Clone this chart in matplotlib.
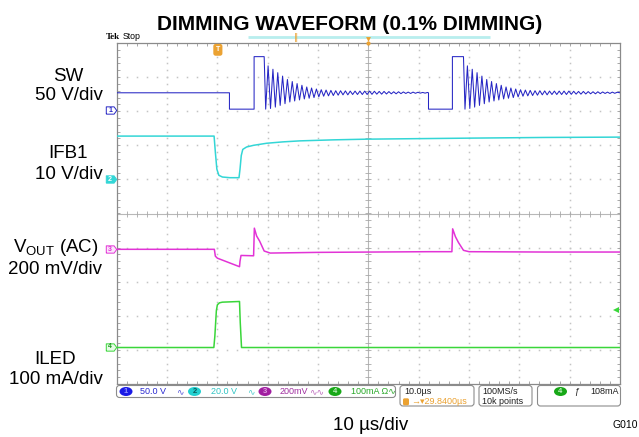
import numpy as np
import matplotlib.pyplot as plt
from matplotlib.patches import FancyBboxPatch, Ellipse
from matplotlib.path import Path

plt.rcParams['font.family'] = ['Liberation Sans', 'DejaVu Sans']
plt.rcParams['mathtext.fontset'] = 'custom'
plt.rcParams['mathtext.rm'] = 'Liberation Sans'

W, H = 639, 437

# ---- data: time in us (10 us/div), amplitude in screen divisions ----
# SW (ch1)
sw_base = 3.54
sw_low = 3.06
sw_pulse = 4.60
sw_fall = [22.4, 61.95]       # switch node drops
sw_rise = [27.3, 66.7]        # switch node jumps up
sw_ring_start = [29.3, 68.9]  # end of flat top, ringing begins
ring_period = 0.96
ring_peaks = [4.33, 4.23, 4.13, 4.03, 3.93, 3.87, 3.81, 3.76, 3.71, 3.68,
              3.65, 3.63, 3.62, 3.61, 3.60, 3.60, 3.595, 3.59, 3.59, 3.59,
              3.59, 3.59, 3.585, 3.58, 3.58, 3.575, 3.57, 3.57, 3.565, 3.56,
              3.56, 3.555, 3.55, 3.55]
ring_troughs = [3.06, 3.08, 3.12, 3.17, 3.22, 3.27, 3.30, 3.33, 3.36, 3.38,
                3.40, 3.42, 3.44, 3.45, 3.46, 3.47, 3.48, 3.48, 3.49, 3.49,
                3.49, 3.49, 3.495, 3.50, 3.50, 3.505, 3.51, 3.51, 3.515, 3.52,
                3.52, 3.525, 3.53, 3.53]

# IFB1 (ch2)
ifb_t = [0, 19.35, 19.6, 19.9, 20.3, 21.0, 22.5, 24.3, 24.5, 24.75, 25.05,
         25.8, 27.2, 29.8, 33.0, 36.4, 43.1, 49.7, 56.3, 70, 85, 100]
ifb_v = [2.27, 2.27, 1.80, 1.30, 1.12, 1.07, 1.05, 1.05, 1.30, 1.70, 1.88,
         1.95, 2.00, 2.06, 2.10, 2.13, 2.16, 2.18, 2.19, 2.21, 2.23, 2.24]

# VOUT AC (ch3)
vout_t = [0, 19.4, 19.6, 20.0, 24.4, 24.5, 24.7, 27.2, 27.35, 27.8, 28.4,
          29.3, 30.5, 40, 62, 66.6, 66.75, 67.3, 67.9, 68.9, 70, 85, 100]
vout_v = [-1.05, -1.05, -1.25, -1.31, -1.56, -1.40, -1.23, -1.24, -0.43,
          -0.66, -0.81, -1.10, -1.16, -1.14, -1.12, -1.12, -0.45, -0.68,
          -0.85, -1.08, -1.12, -1.13, -1.13]

# ILED (ch4)
iled_t = [0, 19.3, 19.5, 19.8, 20.0, 20.4, 21.0, 24.4, 24.55, 24.8, 100]
iled_v = [-3.93, -3.93, -3.60, -2.85, -2.68, -2.62, -2.60, -2.58, -3.20,
          -3.93, -3.93]

ch_ground = [3.03, 1.0, -1.05, -3.91]
ch_colors = ['#2626c4', '#33d6d6', '#e233d6', '#3ad63a']
trig_time = 20.1
trig_level = -2.83


def sw_trace():
    xs, ys = [0.0], [sw_base]
    for i in range(len(sw_fall)):
        t_next = sw_fall[i + 1] if i + 1 < len(sw_fall) else 100.0
        xs += [sw_fall[i], sw_fall[i], sw_rise[i], sw_rise[i], sw_ring_start[i]]
        ys += [sw_base, sw_low, sw_low, sw_pulse, sw_pulse]
        for k, (tr, pk) in enumerate(zip(ring_troughs, ring_peaks)):
            tt = sw_ring_start[i] + 0.3 + k * ring_period
            tp = tt + ring_period / 2
            if tp > t_next:
                break
            xs += [tt, tp]
            ys += [tr, pk]
        xs.append(t_next)
        ys.append(sw_base)
    return xs, ys


fig = plt.figure(figsize=(W / 100, H / 100), dpi=100)
ax = fig.add_axes([116.7 / W, 1 - 384 / H, (620 - 116.7) / W, (384 - 43) / H])
ax.set_xlim(0, 100)
ax.set_ylim(-5, 5)

grid_c = '#c4c4c4'
for s in ax.spines.values():
    s.set_color('#8a8a8a')
    s.set_linewidth(0.9)
ax.set_xticks([])
ax.set_yticks([])
ax.set_xticks(np.arange(0, 100.1, 2), minor=True)
ax.set_yticks(np.arange(-5, 5.01, 0.2), minor=True)
ax.tick_params(which='minor', direction='in', length=2.5, width=0.6,
               color='#9a9a9a', top=True, right=True,
               labelbottom=False, labelleft=False)

# dotted graticule
for gx in range(10, 100, 10):
    if gx != 50:
        yy = np.arange(-5, 5.01, 0.2)
        ax.plot(np.full_like(yy, gx), yy, ls='none', marker='s', ms=1.1,
                mew=0, color=grid_c, zorder=1)
for gy in range(-4, 5):
    if gy != 0:
        xx = np.arange(0, 100.1, 2)
        ax.plot(xx, np.full_like(xx, gy), ls='none', marker='s', ms=1.1,
                mew=0, color=grid_c, zorder=1)
ax.axhline(0, color='#b8b8b8', lw=0.8, zorder=1)
ax.axvline(50, color='#b8b8b8', lw=0.8, zorder=1)
xx = np.arange(0, 100.1, 2)
ax.plot(xx, np.zeros_like(xx), ls='none', marker='|', ms=4, mew=0.6,
        color='#a8a8a8', zorder=1)
yy = np.arange(-5, 5.01, 0.2)
ax.plot(np.full_like(yy, 50), yy, ls='none', marker='_', ms=4, mew=0.6,
        color='#a8a8a8', zorder=1)

# traces
sx, sy = sw_trace()
ax.plot(sx, sy, color=ch_colors[0], lw=0.75, zorder=5)
ax.plot(ifb_t, ifb_v, color=ch_colors[1], lw=1.1, zorder=4)
ax.plot(vout_t, vout_v, color=ch_colors[2], lw=1.1, zorder=4)
ax.plot(iled_t, iled_v, color=ch_colors[3], lw=1.1, zorder=4)

# channel ground markers on the left edge
marker_path = Path([(-0.6, -0.42), (0.3, -0.42), (0.6, 0), (0.3, 0.42),
                    (-0.6, 0.42), (-0.6, -0.42)])
fills = ['white', ch_colors[1], '#fbe6fb', '#e6fbe6']
txtc = [ch_colors[0], 'white', ch_colors[2], '#1f9a1f']
for n, (lev, c) in enumerate(zip(ch_ground, ch_colors)):
    ax.plot(-1.05, lev, marker=marker_path, ms=7.5, mfc=fills[n], mec=c,
            mew=0.7, clip_on=False, zorder=6)
    ax.text(-1.3, lev, str(n + 1), fontsize=5, color=txtc[n], ha='center',
            va='center', clip_on=False, zorder=7, fontweight='bold')

# trigger markers
orange = '#eba232'
ax.text(trig_time, 4.8, 'T', fontsize=5, color='white', ha='center',
        va='center', fontweight='bold', zorder=7,
        bbox=dict(boxstyle='round,pad=0.25', fc=orange, ec=orange))
ax.plot(99.3, trig_level, marker='<', ms=4, color=ch_colors[3], mew=0,
        clip_on=False, zorder=7)

# ---- overlay in pixel coordinates for labels / status bar ----
ov = fig.add_axes([0, 0, 1, 1], zorder=10)
ov.set_xlim(0, W)
ov.set_ylim(H, 0)
ov.axis('off')
ov.patch.set_alpha(0)

ov.text(350, 30, 'DIMMING WAVEFORM (0.1% DIMMING)', ha='center',
        va='baseline', fontsize=15, fontweight='bold')
ov.text(106, 39, 'Tek', fontsize=6.5, fontweight='bold',
        family='Liberation Serif', va='baseline')
ov.text(123, 39, 'Stop', fontsize=6.3, va='baseline')
ov.plot([248, 490], [36.5, 36.5], color='#b8eeee', lw=2, solid_capstyle='butt')
ov.text(296, 37.5, '\u2016', color=orange, fontsize=6, ha='center', va='center',
        family='DejaVu Sans')
ov.plot(368, 38.5, marker='v', ms=3.5, color=orange, mew=0)
ov.plot(368, 43, marker='o', ms=3, color=orange, mew=0)

labels = [('SW', 68.5, 80.7), ('50 V/div', 68.5, 100),
          ('IFB1', 68.5, 158.3), ('10 V/div', 68.5, 179),
          (r'V$_{\rm OUT}$ (AC)', 55.5, 251.7), ('200 mV/div', 55.5, 274),
          ('ILED', 55.5, 364), ('100 mA/div', 55.5, 384.3)]
for txt, x, y in labels:
    ov.text(x, y, txt, ha='center', va='baseline', fontsize=13.5)

ov.text(371, 430, '10 \u00b5s/div', ha='center', va='baseline', fontsize=13.5)
ov.text(638, 428, 'G010', ha='right', va='baseline', fontsize=7.5)

# status bar
for x0, y0, x1, y1 in [(116.5, 385.5, 395.5, 397.5), (400, 385.5, 474, 406),
                       (479, 385.5, 532, 406), (537.5, 385.5, 620.5, 406)]:
    ov.add_patch(FancyBboxPatch((x0, y0), x1 - x0, y1 - y0,
                                boxstyle='round,pad=0,rounding_size=3',
                                fc='white', ec='#8c8c8c', lw=0.8))

fs = 6.5
yl1, yl2 = 391.5, 401.8
chips = [(126, '#1a1ae6', '1', '#9090ff'), (194.5, '#22d0d0', '2', '#0a5a5a'),
         (265, '#a01ea0', '3', '#e0a0e0'), (335, '#18a818', '4', '#c0f0c0'),
         (560.5, '#18a818', '4', '#c0f0c0')]
for x, fc, num, tc in chips:
    ov.add_patch(Ellipse((x, yl1), 13, 9, fc=fc, ec='none'))
    ov.text(x, yl1, num, ha='center', va='center', fontsize=5.5, color=tc,
            fontweight='bold')

bar_text = [(139.5, '50.0 V', '#2a2ad0'), (176, '\u223f', '#5a5ad8'),
            (210.6, '20.0 V', '#30c4c4'), (247, '\u223f', '#50cccc'),
            (280, '200mV', '#a030a0'), (309, '\u223f\u223f', '#c070c0'),
            (351, '100mA \u03a9\u223f', '#28a828'),
            (404, '10.0\u00b5s', '#202020'),
            (482.5, '100MS/s', '#202020'), (574, '\u0192', '#202020'),
            (590, '108mA', '#202020')]
for x, t, c in bar_text:
    ov.text(x, yl1, t, ha='left', va='center', fontsize=fs, color=c)
ov.text(482.5, yl2, '10k points', ha='left', va='center', fontsize=fs,
        color='#202020')
ov.add_patch(FancyBboxPatch((403, yl2 - 3.5), 6, 7,
                            boxstyle='round,pad=0,rounding_size=1.5',
                            fc=orange, ec='none'))
ov.text(411, yl2, '\u2192\u25be29.8400\u00b5s', ha='left', va='center',
        fontsize=fs, color=orange)

fig.savefig('out.png', dpi=100)
plt.close(fig)
